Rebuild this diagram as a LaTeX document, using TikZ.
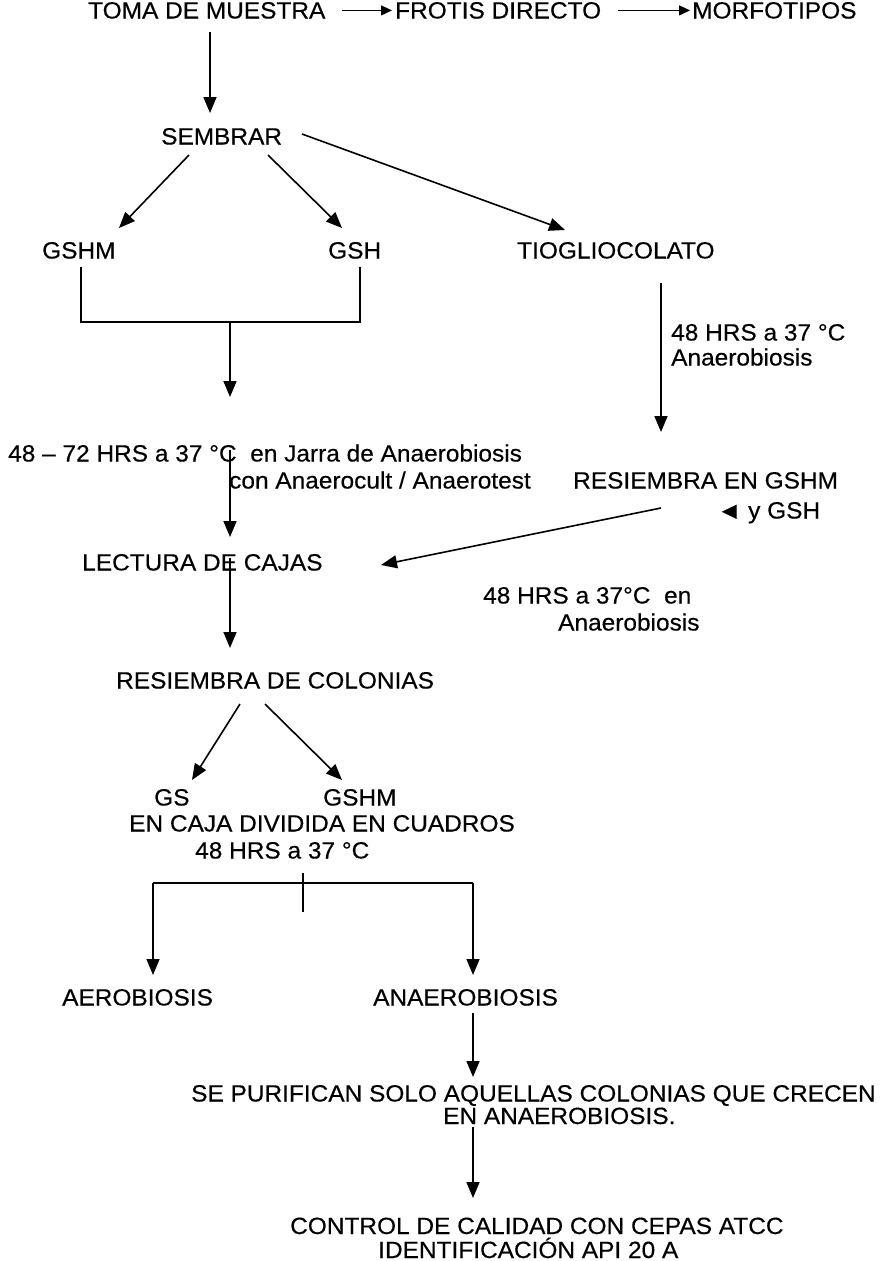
\documentclass[tikz,border=0pt]{standalone}
\usepackage{fontspec}
\setmainfont{Liberation Sans}[FakeStretch=1.04,FakeBold=0.4]
\usetikzlibrary{arrows.meta}
\begin{document}
\begin{tikzpicture}[x=1pt,y=-1pt,
  lbl/.style={inner sep=0pt, anchor=base west, font=\fontsize{23.5}{26}\selectfont},
  arr/.style={line width=1.6pt, -{Triangle[length=16pt,width=13pt]}},
  thinarr/.style={line width=1.1pt, -{Triangle[length=11pt,width=10pt]}},
  ln/.style={line width=1.4pt}]
\useasboundingbox[fill=white] (0,0) rectangle (886,1261);

% ---- nodes ----
\node[lbl] (toma)   at (88,18.5)  {TOMA DE MUESTRA};
\node[lbl] (frotis) at (395,18.5) {FROTIS DIRECTO};
\node[lbl] (morfo)  at (692,18.5) {MORFOTIPOS};
\node[lbl] (sembrar) at (161,144.5) {SEMBRAR};
\node[lbl] (gshm)  at (42,258.5)  {GSHM};
\node[lbl] (gsh)   at (328,258.5) {GSH};
\node[lbl] (tio)   at (517,258.5) {TIOGLIOCOLATO};
\node[lbl] (t1a)   at (671,340.5) {48 HRS a 37 °C};
\node[lbl] (t1b)   at (671,365.5) {Anaerobiosis};
\node[lbl] (jarA)  at (8,461.5)   {48 – 72 HRS a 37 °C\ \ en Jarra de Anaerobiosis};
\node[lbl] (jarB)  at (229,488.5) {con Anaerocult / Anaerotest};
\node[lbl] (resA)  at (573,488.5) {RESIEMBRA EN GSHM};
\node[lbl] (resB)  at (717,518.5) {◄ y GSH};
\node[lbl] (lect)  at (82,570.5)  {LECTURA DE CAJAS};
\node[lbl] (t2a)   at (483,603.5) {48 HRS a 37°C\ \ en};
\node[lbl] (t2b)   at (558,630.5) {Anaerobiosis};
\node[lbl] (rcol)  at (116,688.5) {RESIEMBRA DE COLONIAS};
\node[lbl] (gs)    at (154,805.5) {GS};
\node[lbl] (gshm2) at (323,805.5) {GSHM};
\node[lbl] (caja)  at (129,831.5) {EN CAJA DIVIDIDA EN CUADROS};
\node[lbl] (t3)    at (195,858.5) {48 HRS a 37 °C};
\node[lbl] (aero)  at (62,1005.5) {AEROBIOSIS};
\node[lbl] (anaero) at (373,1005.5) {ANAEROBIOSIS};
\node[lbl] (purA)  at (191,1101.5) {SE PURIFICAN SOLO AQUELLAS COLONIAS QUE CRECEN};
\node[lbl] (purB)  at (443,1124) {EN ANAEROBIOSIS.};
\node[lbl] (ctrl)  at (290,1234) {CONTROL DE CALIDAD CON CEPAS ATCC};
\node[lbl] (ident) at (378,1258) {IDENTIFICACIÓN API 20 A};

% ---- connector end points ----
\coordinate (a1s) at (210,32);   \coordinate (a1e) at (210,113);
\coordinate (s1s) at (189,155);  \coordinate (s1e) at (119,228);
\coordinate (s2s) at (268,155);  \coordinate (s2e) at (342,228);
\coordinate (s3s) at (302,134);  \coordinate (s3e) at (565,230);
\coordinate (bl) at (81,267);    \coordinate (br) at (360,267);
\coordinate (bm) at (230,322);   \coordinate (bme) at (230,397);
\coordinate (tvs) at (661,283);  \coordinate (tve) at (661,432);
\coordinate (j1s) at (230,450);  \coordinate (j1e) at (230,537);
\coordinate (rds) at (661,508);  \coordinate (rde) at (381,565);
\coordinate (l1s) at (230,558);  \coordinate (l1e) at (230,648);
\coordinate (c1s) at (240,704);  \coordinate (c1e) at (192,780);
\coordinate (c2s) at (265,704);  \coordinate (c2e) at (342,780);
\coordinate (hl) at (153,883);   \coordinate (hr) at (473,883);
\coordinate (tk1) at (303,873);  \coordinate (tk2) at (303,912);
\coordinate (hle) at (153,975);  \coordinate (hre) at (473,975);
\coordinate (p1s) at (473,1013); \coordinate (p1e) at (473,1077);
\coordinate (p2s) at (473,1127); \coordinate (p2e) at (473,1198);

% ---- connectors ----
\draw[thinarr] ([xshift=16pt]toma.east) -- ([xshift=-3pt]frotis.west);
\draw[thinarr] ([xshift=17pt]frotis.east) -- ([xshift=-2pt]morfo.west);
\draw[arr] (a1s) -- (a1e);
\draw[arr] (s1s) -- (s1e);
\draw[arr] (s2s) -- (s2e);
\draw[arr] (s3s) -- (s3e);
\draw[ln] (bl) -- (bl |- bm) -- (br |- bm) -- (br);
\draw[arr] (bm) -- (bme);
\draw[arr] (tvs) -- (tve);
\draw[arr] (j1s) -- (j1e);
\draw[arr] (rds) -- (rde);
\draw[arr] (l1s) -- (l1e);
\draw[arr] (c1s) -- (c1e);
\draw[arr] (c2s) -- (c2e);
\draw[ln] (hl) -- (hr);
\draw[ln] (tk1) -- (tk2);
\draw[arr] (hl) -- (hle);
\draw[arr] (hr) -- (hre);
\draw[arr] (p1s) -- (p1e);
\draw[arr] (p2s) -- (p2e);
\end{tikzpicture}
\end{document}
